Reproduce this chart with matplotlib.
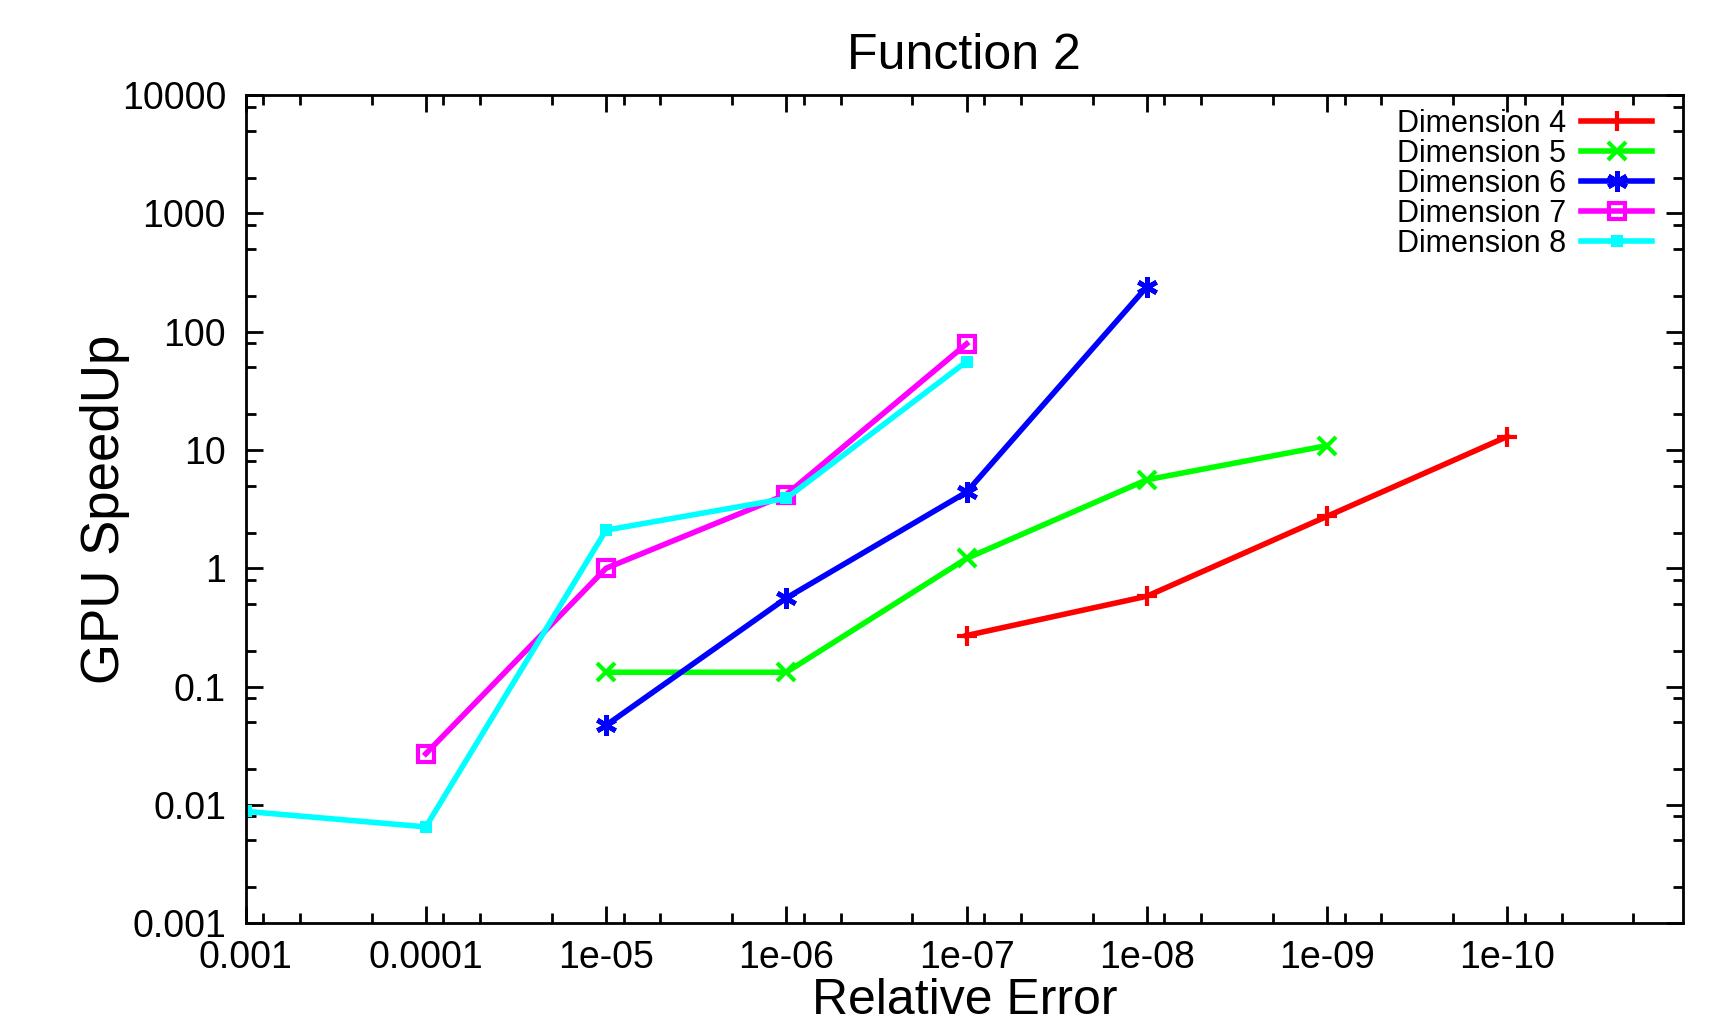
import matplotlib
matplotlib.use("Agg")
import matplotlib.pyplot as plt
from matplotlib.ticker import FixedLocator, LogLocator, NullFormatter

plt.rcParams["font.family"] = ["Liberation Sans", "DejaVu Sans"]

# relative error levels (x) and speedups (y) per dimension
err_d4 = [1e-7, 1e-8, 1e-9, 1e-10]
spd_d4 = [0.27, 0.58, 2.75, 13.0]

err_d5 = [1e-5, 1e-6, 1e-7, 1e-8, 1e-9]
spd_d5 = [0.132, 0.132, 1.21, 5.6, 10.9]

err_d6 = [1e-5, 1e-6, 1e-7, 1e-8]
spd_d6 = [0.047, 0.56, 4.4, 240.0]

err_d7 = [1e-4, 1e-5, 1e-6, 1e-7]
spd_d7 = [0.027, 1.0, 4.2, 79.0]

err_d8 = [1e-3, 1e-4, 1e-5, 1e-6, 1e-7]
spd_d8 = [0.0088, 0.0065, 2.1, 3.9, 56.0]

xticks = [1e-3, 1e-4, 1e-5, 1e-6, 1e-7, 1e-8, 1e-9, 1e-10]
xticklabels = ["0.001", "0.0001", "1e-05", "1e-06", "1e-07", "1e-08", "1e-09", "1e-10"]
yticks = [1e-3, 1e-2, 1e-1, 1, 10, 100, 1000, 10000]
yticklabels = ["0.001", "0.01", "0.1", "1", "10", "100", "1000", "10000"]

fig = plt.figure(figsize=(17.34, 10.24), dpi=100)
ax = fig.add_axes([0.1416, 0.0986, 0.829, 0.8084])

lw = 4
ax.plot(err_d4, spd_d4, color="#ff0000", lw=lw, marker="+", ms=14, mew=3, label="Dimension 4")
ax.plot(err_d5, spd_d5, color="#00ff00", lw=lw, marker="x", ms=13, mew=3, label="Dimension 5")
ax.plot(err_d6, spd_d6, color="#0000ff", lw=lw, marker=(6, 2, 0), ms=15, mew=3.5, label="Dimension 6")
ax.plot(err_d7, spd_d7, color="#ff00ff", lw=lw, marker="s", ms=12, mew=3, mfc="none", label="Dimension 7")
ax.plot(err_d8, spd_d8, color="#00ffff", lw=lw, marker="s", ms=9, mew=0, label="Dimension 8")

ax.set_xscale("log")
ax.set_yscale("log")
ax.set_xlim(1e-3, 1.06e-11)
ax.set_ylim(1e-3, 1e4)

ax.xaxis.set_major_locator(FixedLocator(xticks))
ax.set_xticklabels(xticklabels)
ax.yaxis.set_major_locator(FixedLocator(yticks))
ax.set_yticklabels(yticklabels)
ax.xaxis.set_minor_locator(LogLocator(base=10, subs=[2, 5, 8], numticks=30))
ax.yaxis.set_minor_locator(LogLocator(base=10, subs=[2, 5, 8], numticks=30))
ax.xaxis.set_minor_formatter(NullFormatter())
ax.yaxis.set_minor_formatter(NullFormatter())

ax.tick_params(which="both", direction="in", top=True, right=True, width=2)
ax.tick_params(which="major", length=12, labelsize=27)
ax.tick_params(which="minor", length=7)
ax.tick_params(axis="y", pad=14)
ax.tick_params(axis="x", pad=12)
for sp in ax.spines.values():
    sp.set_linewidth(2)

ax.set_title("Function 2", fontsize=36, pad=19)
ax.set_xlabel("Relative Error", fontsize=36, labelpad=2)
ax.set_ylabel("GPU SpeedUp", fontsize=38, labelpad=-6)

ax.legend(loc="upper right", bbox_to_anchor=(0.991, 1.006), frameon=False, markerfirst=False,
          fontsize=22, handlelength=2.3, handletextpad=0.5, labelspacing=0.0,
          borderaxespad=0.2)

fig.savefig("out.png", dpi=100)
